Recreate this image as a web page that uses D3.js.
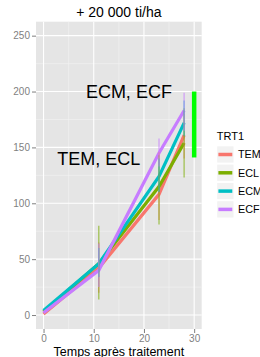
<!DOCTYPE html>
<html>
<head>
<meta charset="utf-8">
<script src="https://cdn.jsdelivr.net/npm/d3@7"></script>
<style>
  body { margin: 0; background: #fff; }
  text { font-family: "Liberation Sans", Arial, sans-serif; }
</style>
</head>
<body>
<svg id="chart" width="260" height="357"></svg>
<script>
// data
var times = [0, 11, 23, 28]
var groups = ["TEM", "ECL", "ECM", "ECF"]
var colors = ["#F8766D", "#7CAE00", "#00BFC4", "#C77CFF"]
var temVals = [1, 42, 108, 161]
var eclVals = [3, 46, 115, 154]
var ecmVals = [4, 46, 124, 172]
var ecfVals = [2, 40, 145, 183]
// error bars [low, high] at the last three times
var temErr = [[20, 65], [85, 146], [140, 180]]
var eclErr = [[14, 80], [81, 143], [123, 185]]
var ecmErr = [[34, 60], [110, 140], [160, 192]]
var ecfErr = [[25, 64], [133, 158], [165, 199]]
var barTime = 30
var barRange = [141, 200]
var notes = [{ x: 11, y: 140, label: "TEM, ECL" }, { x: 17, y: 200, label: "ECM, ECF" }]
var xTicks = [0, 10, 20, 30]
var yTicks = [0, 50, 100, 150, 200, 250]

var series = [temVals, eclVals, ecmVals, ecfVals]
var errs = [temErr, eclErr, ecmErr, ecfErr]

// panel edges (named so they don't clash with window.top)
var pL = 36, pR = 201.7, pT = 21.7, pB = 329

var x = d3.scaleLinear().domain([-1.5, 31.5]).range([pL, pR])
var y = d3.scaleLinear().domain([-12.5, 262.5]).range([pB, pT])

var svg = d3.select("#chart")

// panel background
svg.append("rect")
    .attr("x", pL).attr("y", pT)
    .attr("width", pR - pL).attr("height", pB - pT)
    .attr("fill", "#E5E5E5")

var grid = svg.append("g")
// minor grid
var xMinor = [5, 15, 25]
var yMinor = [25, 75, 125, 175, 225]
grid.selectAll(".xminor").data(xMinor).enter().append("line")
    .attr("x1", d => x(d)).attr("x2", d => x(d))
    .attr("y1", pT).attr("y2", pB)
    .attr("stroke", "#F2F2F2").attr("stroke-width", 0.6)
grid.selectAll(".yminor").data(yMinor).enter().append("line")
    .attr("y1", d => y(d)).attr("y2", d => y(d))
    .attr("x1", pL).attr("x2", pR)
    .attr("stroke", "#F2F2F2").attr("stroke-width", 0.6)
// major grid
grid.selectAll(".xmajor").data(xTicks).enter().append("line")
    .attr("x1", d => x(d)).attr("x2", d => x(d))
    .attr("y1", pT).attr("y2", pB)
    .attr("stroke", "#fff").attr("stroke-width", 1.1)
grid.selectAll(".ymajor").data(yTicks).enter().append("line")
    .attr("y1", d => y(d)).attr("y2", d => y(d))
    .attr("x1", pL).attr("x2", pR)
    .attr("stroke", "#fff").attr("stroke-width", 1.1)

// axes
svg.append("g")
    .attr("transform", "translate(0," + pB + ")")
    .call(d3.axisBottom(x).tickValues(xTicks).tickSize(4).tickPadding(2))
svg.append("g")
    .attr("transform", "translate(" + pL + ",0)")
    .call(d3.axisLeft(y).tickValues(yTicks).tickSize(4).tickPadding(2))
svg.selectAll(".domain").remove()
svg.selectAll(".tick line").attr("stroke", "#7F7F7F")
svg.selectAll(".tick text")
    .attr("fill", "#7F7F7F")
    .style("font-size", "10px")
    .style("font-family", "Liberation Sans, Arial, sans-serif")

// green bar
svg.append("line")
    .attr("x1", x(barTime)).attr("x2", x(barTime))
    .attr("y1", y(barRange[0])).attr("y2", y(barRange[1]))
    .attr("stroke", "#00FF00").attr("stroke-width", 4.5)

// lines
var line = d3.line()
    .x(function (d, i) { return x(times[i]) })
    .y(function (d) { return y(d) })

svg.selectAll(".series")
    .data(series)
    .enter()
    .append("path")
    .attr("class", "series")
    .attr("d", d => line(d))
    .attr("fill", "none")
    .attr("stroke", (d, i) => colors[i])
    .attr("stroke-width", 3.2)

// error bars
errs.forEach(function (e, gi) {
    svg.selectAll(".err" + gi)
        .data(e)
        .enter()
        .append("line")
        .attr("x1", (d, i) => x(times[i + 1])).attr("x2", (d, i) => x(times[i + 1]))
        .attr("y1", d => y(d[0])).attr("y2", d => y(d[1]))
        .attr("stroke", colors[gi])
        .attr("stroke-width", 1.5)
        .attr("opacity", 0.55)
})

// annotations
svg.selectAll(".note")
    .data(notes)
    .enter()
    .append("text")
    .attr("x", d => x(d.x))
    .attr("y", d => y(d.y))
    .attr("dy", "0.35em")
    .attr("text-anchor", "middle")
    .style("font-size", "18px")
    .attr("fill", "#000")
    .text(d => d.label)

// title and axis title
svg.append("text")
    .attr("x", (pL + pR) / 2).attr("y", 17)
    .attr("text-anchor", "middle")
    .style("font-size", "14px")
    .text("+ 20 000 ti/ha")
svg.append("text")
    .attr("x", (pL + pR) / 2).attr("y", 356)
    .attr("text-anchor", "middle")
    .style("font-size", "12.5px")
    .text("Temps après traitement")

// legend
var legend = svg.append("g").attr("transform", "translate(216.7,0)")
legend.append("text")
    .attr("x", 0).attr("y", 139.5)
    .style("font-size", "11px")
    .text("TRT1")
var keys = legend.selectAll(".key")
    .data(groups)
    .enter()
    .append("g")
    .attr("transform", (d, i) => "translate(0," + (145.8 + i * 18.3) + ")")
keys.append("rect")
    .attr("width", 17.3).attr("height", 17.3)
    .attr("fill", "#F2F2F2").attr("stroke", "#fff").attr("stroke-width", 1)
keys.append("line")
    .attr("x1", 1.7).attr("x2", 15.6)
    .attr("y1", 8.7).attr("y2", 8.7)
    .attr("stroke", (d, i) => colors[i]).attr("stroke-width", 3.5)
keys.append("text")
    .attr("x", 21.3).attr("y", 8.7)
    .attr("dy", "0.35em")
    .style("font-size", "10.8px")
    .text(d => d)
</script>
</body>
</html>
